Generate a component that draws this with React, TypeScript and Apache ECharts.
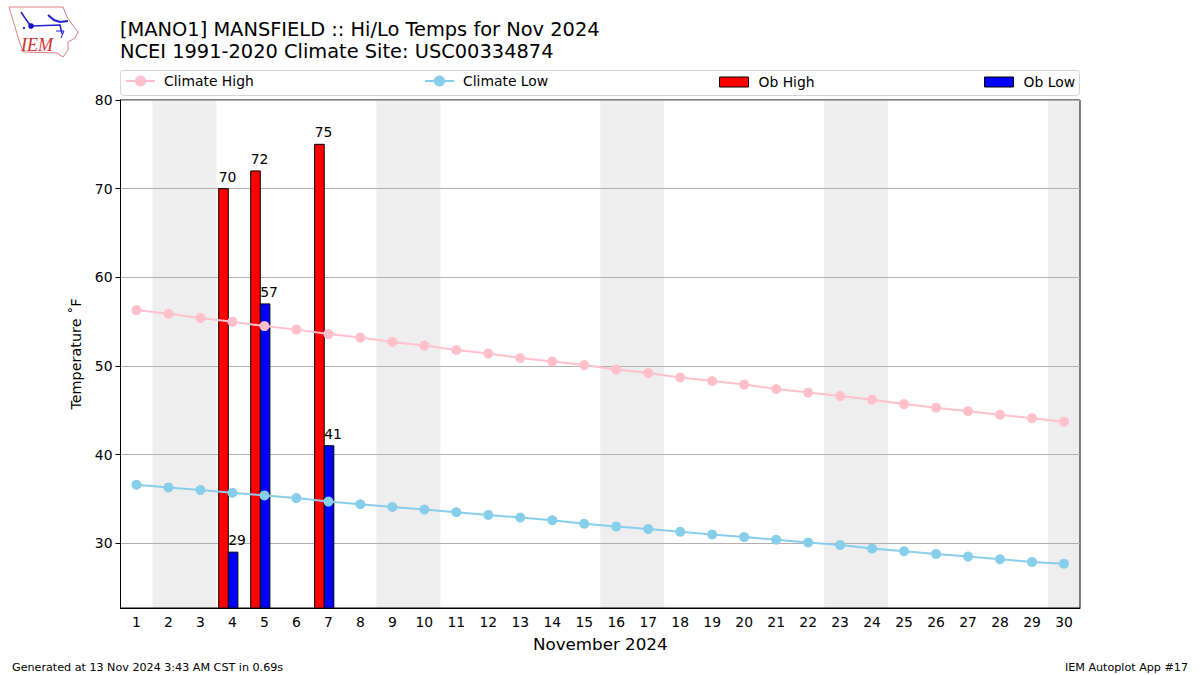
import React, { useEffect, useRef } from "react";
import * as echarts from "echarts";

const titleText = "[MANO1] MANSFIELD :: Hi/Lo Temps for Nov 2024\nNCEI 1991-2020 Climate Site: USC00334874";
const days = Array.from({ length: 30 }, (_, i) => String(i + 1));
const climateHigh = [56.3, 55.9, 55.4, 55.0, 54.5, 54.1, 53.6, 53.2, 52.7, 52.3, 51.8, 51.4, 50.9, 50.5, 50.1, 49.6, 49.2, 48.7, 48.3, 47.9, 47.4, 47.0, 46.6, 46.2, 45.7, 45.3, 44.9, 44.5, 44.1, 43.7];
const climateLow = [36.6, 36.3, 36.0, 35.7, 35.4, 35.1, 34.7, 34.4, 34.1, 33.8, 33.5, 33.2, 32.9, 32.6, 32.2, 31.9, 31.6, 31.3, 31.0, 30.7, 30.4, 30.1, 29.8, 29.4, 29.1, 28.8, 28.5, 28.2, 27.9, 27.7];
const obDays = ["4", "5", "7"];
const obHigh = [70, 72, 75];
const obLow = [29, 57, 41];
const weekendStart = ["2", "9", "16", "23", "30"];
const weekendEnd = ["3", "10", "17", "24", "30"];
const yTicks = [30, 40, 50, 60, 70, 80];
const font = "DejaVu Sans";
const yMin = 22.7;
const yMax = 80;

function barRenderer(offset: number, color: string) {
  return (_: any, api: any) => {
    const band = api.size([1, 0])[0];
    const top = api.coord([api.value(0), api.value(1)]);
    const base = api.coord([api.value(0), yMin]);
    const left = top[0] + offset * band;
    const width = 0.3 * band;
    return {
      type: "group",
      children: [
        {
          type: "rect",
          shape: { x: left, y: top[1], width, height: base[1] - top[1] },
          style: { fill: color, stroke: "#000", lineWidth: 1 },
        },
        {
          type: "text",
          style: { x: left, y: top[1] - 5, text: String(api.value(1)), fill: "#000", font: `13.9px "${font}"`, textAlign: "left", textVerticalAlign: "bottom" },
        },
      ],
    };
  };
}

function shadeRenderer(_: any, api: any) {
  const band = api.size([1, 0])[0];
  const a = api.coord([api.value(0), yMax]);
  const b = api.coord([api.value(1), yMin]);
  return {
    type: "rect",
    shape: { x: a[0] - band / 2, y: a[1], width: b[0] - a[0] + band, height: b[1] - a[1] },
    style: { fill: "#eeeeee" },
  };
}

const legendBase = {
  top: 70,
  itemWidth: 29,
  itemGap: 0,
  padding: [4, 0, 5, 0],
  textStyle: { fontFamily: font, fontSize: 13.9, color: "#000", padding: [0, 0, 0, 4] },
};
const obLegendBase = {
  ...legendBase,
  itemHeight: 10,
  padding: [7, 0, 5, 0],
  textStyle: { fontFamily: font, fontSize: 13.9, color: "#000", padding: [0, 0, 0, 5] },
};
obLegendBase.padding = [5, 0, 5, 0];

const blue = "#2020d0";

export default function App() {
  const ref = useRef<HTMLDivElement>(null);
  useEffect(() => {
    const chart = echarts.init(ref.current!, undefined, { renderer: "svg" });
    chart.setOption({
      animation: false,
      backgroundColor: "#fff",
      title: {
        text: titleText,
        left: 120,
        top: 18,
        padding: 0,
        textStyle: { fontFamily: font, fontSize: 19.4, fontWeight: "normal", color: "#000", lineHeight: 22 },
      },
      grid: { left: 120.5, right: 120, top: 100, bottom: 67, show: true, borderColor: "#000", borderWidth: 1, backgroundColor: "transparent" },
      legend: [
        { ...legendBase, left: 125, itemHeight: 14, data: [{ name: "Climate High" }] },
        { ...legendBase, left: 424, itemHeight: 14, data: [{ name: "Climate Low" }] },
        { ...obLegendBase, left: 719, data: [{ name: "Ob High", icon: "rect", itemStyle: { color: "#ff0000", borderColor: "#000", borderWidth: 1 } }] },
        { ...obLegendBase, left: 984, data: [{ name: "Ob Low", icon: "rect", itemStyle: { color: "#0000ff", borderColor: "#000", borderWidth: 1 } }] },
      ],
      xAxis: {
        type: "category",
        data: days,
        boundaryGap: true,
        name: "November 2024",
        nameLocation: "middle",
        nameGap: 27,
        nameTextStyle: { fontFamily: font, fontSize: 16.7, color: "#000" },
        axisLine: { lineStyle: { color: "#000", width: 1 } },
        axisTick: { alignWithLabel: true, length: 5, lineStyle: { color: "#000" } },
        axisLabel: { interval: 0, fontFamily: font, fontSize: 13.9, color: "#000", margin: 7 },
        splitLine: { show: false },
      },
      yAxis: {
        type: "value",
        min: yMin,
        max: yMax,
        name: "Temperature ˚F",
        nameLocation: "middle",
        nameGap: 38,
        nameTextStyle: { fontFamily: font, fontSize: 14.4, color: "#000" },
        axisLine: { show: true, lineStyle: { color: "#000", width: 1 } },
        axisTick: { show: true, length: 5, lineStyle: { color: "#000" }, customValues: yTicks },
        axisLabel: { fontFamily: font, fontSize: 13.9, color: "#000", margin: 8, customValues: yTicks },
        splitLine: { show: true, lineStyle: { color: "#b0b0b0", width: 1 } },
      },
      graphic: [
        { type: "rect", shape: { x: 120.5, y: 70.5, width: 959, height: 25, r: 3 }, style: { fill: "transparent", stroke: "#d5d5d5", lineWidth: 1 }, z: 1 },
        { type: "polyline", shape: { points: [[9, 7], [63, 7], [67, 17], [71, 23], [78, 32], [75, 38], [68, 42], [68, 50], [63, 57], [57, 53], [23, 52], [18, 37], [15, 27], [12, 17], [9, 7]] }, style: { stroke: "#e08080", fill: "none", lineWidth: 1 } },
        { type: "polyline", shape: { points: [[21, 12], [25, 18], [30, 25]] }, style: { stroke: blue, fill: "none", lineWidth: 1.5 } },
        { type: "polyline", shape: { points: [[31, 26], [60, 25], [62, 34]] }, style: { stroke: blue, fill: "none", lineWidth: 1.5 } },
        { type: "polyline", shape: { points: [[48, 15], [54, 20], [60, 22], [68, 21]] }, style: { stroke: blue, fill: "none", lineWidth: 2 } },
        { type: "polyline", shape: { points: [[56, 31], [64, 31], [61, 38]] }, style: { stroke: blue, fill: "none", lineWidth: 1 } },
        { type: "circle", shape: { cx: 31, cy: 26, r: 2.8 }, style: { fill: "#1010c0" } },
        { type: "circle", shape: { cx: 24, cy: 28, r: 1.2 }, style: { fill: blue } },
        { type: "text", style: { x: 21, y: 36, text: "IEM", fill: "#d03030", font: 'italic 18px "Liberation Serif"' } },
        { type: "text", style: { x: 12, y: 662, text: "Generated at 13 Nov 2024 3:43 AM CST in 0.69s", fill: "#000", font: `11.15px "${font}"` } },
        { type: "text", style: { x: 1188, y: 662, text: "IEM Autoplot App #17", fill: "#000", textAlign: "right", font: `11.15px "${font}"` } },
      ],
      series: [
        {
          type: "custom",
          name: "Weekend",
          z: -1,
          silent: true,
          renderItem: shadeRenderer,
          encode: { x: [0, 1], y: 2 },
          data: weekendStart.map((d, i) => [d, weekendEnd[i], yMax]),
        },
        {
          type: "custom",
          name: "Ob High",
          z: 3,
          itemStyle: { color: "#ff0000" },
          renderItem: barRenderer(-0.43, "#ff0000"),
          encode: { x: 0, y: 1 },
          data: obDays.map((d, i) => [d, obHigh[i]]),
        },
        {
          type: "custom",
          name: "Ob Low",
          z: 3,
          itemStyle: { color: "#0000ff" },
          renderItem: barRenderer(-0.13, "#0000ff"),
          encode: { x: 0, y: 1 },
          data: obDays.map((d, i) => [d, obLow[i]]),
        },
        {
          type: "line",
          name: "Climate High",
          z: 5,
          data: climateHigh,
          symbol: "circle",
          symbolSize: 10,
          itemStyle: { color: "#ffc0cb" },
          lineStyle: { color: "#ffc0cb", width: 2 },
        },
        {
          type: "line",
          name: "Climate Low",
          z: 5,
          data: climateLow,
          symbol: "circle",
          symbolSize: 10,
          itemStyle: { color: "#87ceeb" },
          lineStyle: { color: "#87ceeb", width: 2 },
        },
      ],
    });
    return () => chart.dispose();
  }, []);
  return <div ref={ref} style={{ position: "fixed", left: 0, top: 0, width: 1200, height: 675 }} />;
}
